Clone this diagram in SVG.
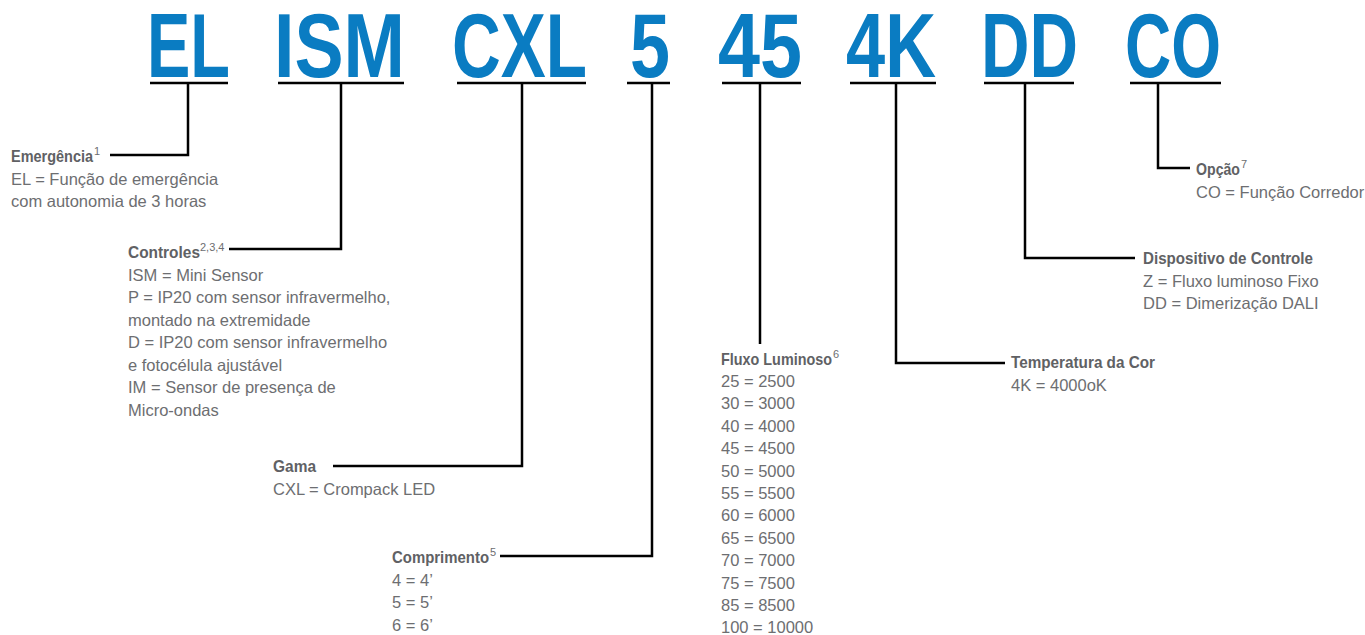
<svg xmlns="http://www.w3.org/2000/svg" width="1365" height="635" viewBox="0 0 1365 635">
<style>
.code{font-family:"Liberation Sans",Arial,sans-serif;font-weight:bold;font-size:90px;fill:#0a7cc2}
.ul{stroke:#000;stroke-width:2.5;fill:none}
.con{stroke:#000;stroke-width:2.5;fill:none;stroke-linejoin:miter}
.t{font-family:"Liberation Sans",Arial,sans-serif;font-size:16.5px;fill:#6d6e71}
.h{font-family:"Liberation Sans",Arial,sans-serif;font-size:16.5px;font-weight:bold;fill:#606164}
.sup{font-family:"Liberation Sans",Arial,sans-serif;font-size:11px;fill:#6d6e71}
</style>
<rect width="1365" height="635" fill="#fff"/>

<g id="code-EL"><text class="code" x="147" y="77" textLength="83" lengthAdjust="spacingAndGlyphs">EL</text><path class="ul" d="M150,83H228"/></g>
<g id="code-ISM"><text class="code" x="274" y="77" textLength="131" lengthAdjust="spacingAndGlyphs">ISM</text><path class="ul" d="M278,83H404"/></g>
<g id="code-CXL"><text class="code" x="452" y="77" textLength="135" lengthAdjust="spacingAndGlyphs">CXL</text><path class="ul" d="M457,83H586"/></g>
<g id="code-5"><text class="code" x="630" y="77" textLength="40" lengthAdjust="spacingAndGlyphs">5</text><path class="ul" d="M627,83H670"/></g>
<g id="code-45"><text class="code" x="718" y="77" textLength="84" lengthAdjust="spacingAndGlyphs">45</text><path class="ul" d="M722,83H801"/></g>
<g id="code-4K"><text class="code" x="846" y="77" textLength="90" lengthAdjust="spacingAndGlyphs">4K</text><path class="ul" d="M850,83H936"/></g>
<g id="code-DD"><text class="code" x="981" y="77" textLength="97" lengthAdjust="spacingAndGlyphs">DD</text><path class="ul" d="M984,83H1074"/></g>
<g id="code-CO"><text class="code" x="1125" y="77" textLength="96" lengthAdjust="spacingAndGlyphs">CO</text><path class="ul" d="M1130,83H1221"/></g>

<g id="connectors">
<path class="con" d="M188,83V155H110"/>
<path class="con" d="M341,83V249H229"/>
<path class="con" d="M522,83V466H333"/>
<path class="con" d="M652,83V556H500"/>
<path class="con" d="M760,83V344"/>
<path class="con" d="M896,83V363H1005"/>
<path class="con" d="M1025,83V258H1135"/>
<path class="con" d="M1158,83V168H1190"/>
</g>

<g id="desc-emergencia">
<text class="h" x="11" y="162" textLength="82" lengthAdjust="spacingAndGlyphs">Emergência</text>
<text class="sup" x="94" y="155">1</text>
<text class="t" x="11" y="184.5">EL = Função de emergência</text>
<text class="t" x="11" y="207">com autonomia de 3 horas</text>
</g>

<g id="desc-controles">
<text class="h" x="128" y="258" textLength="72" lengthAdjust="spacingAndGlyphs">Controles</text>
<text class="sup" x="200" y="251">2,3,4</text>
<text class="t" x="128" y="280.5">ISM = Mini Sensor</text>
<text class="t" x="128" y="303">P = IP20 com sensor infravermelho,</text>
<text class="t" x="128" y="325.5">montado na extremidade</text>
<text class="t" x="128" y="348">D = IP20 com sensor infravermelho</text>
<text class="t" x="128" y="370.5">e fotocélula ajustável</text>
<text class="t" x="128" y="393">IM = Sensor de presença de</text>
<text class="t" x="128" y="415.5">Micro-ondas</text>
</g>

<g id="desc-gama">
<text class="h" x="273" y="472" textLength="43" lengthAdjust="spacingAndGlyphs">Gama</text>
<text class="t" x="273" y="494.5">CXL = Crompack LED</text>
</g>

<g id="desc-comprimento">
<text class="h" x="392" y="563" textLength="97" lengthAdjust="spacingAndGlyphs">Comprimento</text>
<text class="sup" x="490" y="556">5</text>
<text class="t" x="392" y="585.5">4 = 4’</text>
<text class="t" x="392" y="608">5 = 5’</text>
<text class="t" x="392" y="630.5">6 = 6’</text>
</g>

<g id="desc-fluxo">
<text class="h" x="721" y="364.5" textLength="111" lengthAdjust="spacingAndGlyphs">Fluxo Luminoso</text>
<text class="sup" x="833" y="357.5">6</text>
<text class="t" x="721" y="387">25 = 2500</text>
<text class="t" x="721" y="409.4">30 = 3000</text>
<text class="t" x="721" y="431.8">40 = 4000</text>
<text class="t" x="721" y="454.2">45 = 4500</text>
<text class="t" x="721" y="476.6">50 = 5000</text>
<text class="t" x="721" y="499">55 = 5500</text>
<text class="t" x="721" y="521.4">60 = 6000</text>
<text class="t" x="721" y="543.8">65 = 6500</text>
<text class="t" x="721" y="566.2">70 = 7000</text>
<text class="t" x="721" y="588.6">75 = 7500</text>
<text class="t" x="721" y="611">85 = 8500</text>
<text class="t" x="721" y="633.4">100 = 10000</text>
</g>

<g id="desc-temperatura">
<text class="h" x="1011" y="368" textLength="144" lengthAdjust="spacingAndGlyphs">Temperatura da Cor</text>
<text class="t" x="1011" y="390.5">4K = 4000oK</text>
</g>

<g id="desc-dispositivo">
<text class="h" x="1143" y="264" textLength="170" lengthAdjust="spacingAndGlyphs">Dispositivo de Controle</text>
<text class="t" x="1143" y="286.5">Z = Fluxo luminoso Fixo</text>
<text class="t" x="1143" y="309">DD = Dimerização DALI</text>
</g>

<g id="desc-opcao">
<text class="h" x="1196" y="175" textLength="44" lengthAdjust="spacingAndGlyphs">Opção</text>
<text class="sup" x="1241" y="168">7</text>
<text class="t" x="1196" y="197.5">CO = Função Corredor</text>
</g>
</svg>
